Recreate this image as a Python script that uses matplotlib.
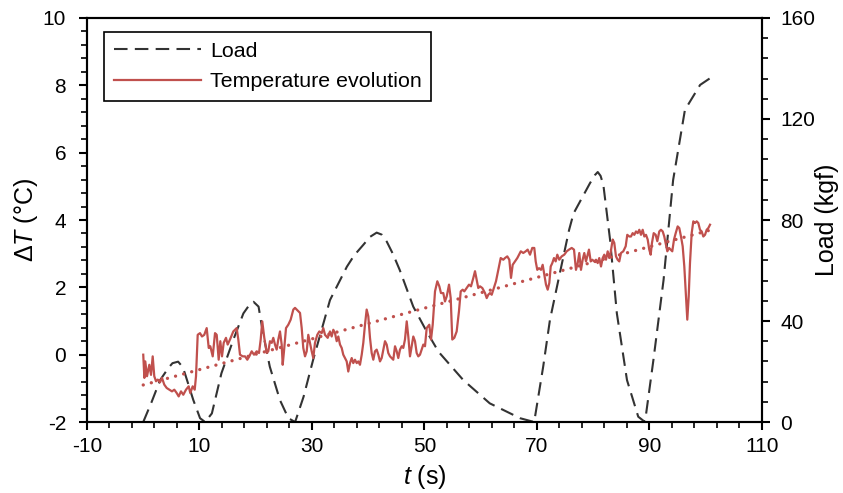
import numpy as np
import matplotlib; matplotlib.use('Agg')
import matplotlib.pyplot as plt
from matplotlib.ticker import MultipleLocator, FixedLocator

plt.rcParams['font.family'] = ['Liberation Sans', 'DejaVu Sans']
plt.rcParams['mathtext.fontset'] = 'custom'
plt.rcParams['mathtext.rm'] = 'Liberation Sans'
plt.rcParams['mathtext.it'] = 'Liberation Sans:italic'
plt.rcParams['axes.unicode_minus'] = False

# temperature evolution (s, degC)
t_temp = [0.00, 0.20, 0.36, 0.67, 1.08, 1.38, 1.68, 1.96, 2.27, 2.57, 2.98, 3.33, 3.74, 4.17, 4.63,
          5.11, 5.52, 5.95, 6.30, 6.71, 7.12, 7.60, 8.08, 8.36, 8.79, 9.15, 9.38, 9.68, 10.09, 10.44,
          10.85, 11.28, 11.64, 11.92, 12.35, 12.76, 13.06, 13.41, 13.70, 14.00, 14.30, 14.71, 15.01,
          15.42, 16.01, 16.61, 16.90, 17.20, 17.68, 18.09, 18.50, 18.85, 19.28, 19.69, 20.17, 20.58,
          20.88, 21.16, 21.52, 21.95, 22.23, 22.53, 22.84, 23.12, 23.42, 23.72, 24.01, 24.31, 24.61,
          24.79, 25.02, 25.38, 25.79, 26.21, 26.68, 26.98, 27.56, 27.87, 28.17, 28.45, 28.76, 29.06,
          29.34, 29.64, 29.95, 30.23, 30.53, 30.94, 31.30, 31.72, 32.01, 32.31, 32.79, 33.20, 33.50,
          33.79, 34.09, 34.39, 34.68, 34.98, 35.28, 35.56, 35.87, 36.17, 36.45, 36.76, 37.06, 37.34,
          37.64, 37.95, 38.23, 38.53, 38.84, 39.12, 39.42, 39.72, 40.01, 40.31, 40.61, 40.90, 41.20,
          41.50, 41.79, 42.09, 42.39, 42.68, 42.98, 43.28, 43.56, 43.87, 44.17, 44.45, 44.76, 45.06,
          45.34, 45.64, 45.95, 46.23, 46.53, 46.84, 47.12, 47.42, 47.72, 48.01, 48.31, 48.61, 48.90,
          49.20, 49.50, 49.79, 50.09, 50.39, 50.85, 51.16, 51.46, 51.87, 52.28, 52.64, 52.93, 53.34,
          53.64, 53.95, 54.36, 54.66, 54.94, 55.30, 55.72, 56.13, 56.44, 56.79, 57.08, 57.50, 57.91,
          58.27, 58.68, 58.98, 59.28, 59.56, 59.87, 60.28, 60.76, 61.06, 61.34, 61.64, 61.95, 62.23,
          62.71, 63.12, 63.55, 64.01, 64.31, 64.72, 65.08, 65.38, 65.68, 66.09, 66.50, 67.12, 67.56,
          67.99, 68.34, 68.76, 69.16, 69.52, 69.77, 70.05, 70.36, 70.71, 71.01, 71.30, 71.60, 71.90,
          72.19, 72.44, 72.72, 73.02, 73.32, 73.61, 73.96, 74.39, 74.85, 75.28, 75.69, 76.17, 76.58,
          76.93, 77.24, 77.52, 77.82, 78.12, 78.41, 78.71, 79.01, 79.24, 79.55, 79.83, 80.19, 80.49,
          80.79, 81.07, 81.38, 81.68, 81.96, 82.27, 82.57, 82.85, 82.98, 83.46, 83.74, 84.04, 84.34, 84.63,
          84.93, 85.34, 85.77, 86.05, 86.41, 86.71, 87.01, 87.30, 87.60, 87.90, 88.19, 88.49, 88.79,
          89.08, 89.38, 89.68, 89.96, 90.21, 90.44, 90.75, 91.10, 91.39, 91.74, 92.04, 92.35, 92.63,
          92.93, 93.17, 93.47, 93.77, 94.05, 94.36, 94.66, 95.01, 95.30, 95.60, 95.90, 96.19, 96.49,
          96.72, 96.97, 97.20, 97.50, 97.79, 98.09, 98.39, 98.68, 98.98, 99.28, 99.57, 99.87, 100.17,
          100.46, 100.76]
dT = [0.00, -0.69, -0.20, -0.64, -0.30, -0.60, -0.05, -0.64, -0.79, -0.74, -0.82, -0.69, -0.89, -0.99, -1.04,
      -1.09, -1.04, -1.14, -1.24, -1.09, -1.19, -1.04, -0.94, -1.14, -0.94, -1.04, -0.64, 0.59, 0.64, 0.54,
      0.59, 0.79, 0.20, 0.25, -0.05, 0.64, 0.59, -0.15, 0.40, -0.05, 0.35, 0.50, 0.30,
      0.45, 0.69, 0.79, 0.45, 0.00, -0.05, -0.05, -0.15, -0.05, 0.10, 0.00, 0.10, 0.05,
      0.45, 0.99, 0.50, 0.05, 0.10, 0.40, 0.35, 0.50, 0.30, 0.15, 0.45, 0.69, 0.30,
      -0.30, 0.10, 0.79, 0.89, 1.04, 1.34, 1.39, 1.29, 1.24, 0.79, 0.20, -0.05, 0.10,
      0.59, 0.35, 0.10, -0.10, 0.35, 0.59, 0.69, 0.64, 0.79, 0.59, 0.50, 0.69, 0.54,
      0.74, 0.64, 0.40, 0.54, 0.30, 0.20, 0.00, -0.10, -0.20, -0.50, -0.25, -0.10, -0.25,
      -0.15, -0.25, -0.20, -0.30, 0.00, 0.35, 0.89, 1.34, 1.14, 0.50, 0.05, -0.15, 0.10,
      0.15, 0.00, -0.20, -0.10, 0.15, 0.40, 0.30, 0.05, -0.05, -0.10, -0.15, 0.25, 0.10,
      -0.10, 0.15, 0.25, 0.20, 0.45, 0.99, 0.54, -0.05, 0.25, 0.54, 0.40, 0.05, -0.05,
      0.00, 0.15, 0.30, 0.25, 0.79, 0.89, 0.45, 0.89, 1.88, 2.18, 2.03, 1.83, 1.83,
      1.58, 1.73, 2.08, 1.68, 0.45, 0.50, 0.69, 1.29, 1.88, 1.93, 1.88, 1.98, 2.08,
      2.03, 2.28, 2.48, 2.23, 1.98, 2.03, 1.98, 1.83, 1.68, 1.78, 1.83, 1.78, 1.93,
      2.18, 2.52, 2.87, 2.82, 2.87, 2.92, 2.82, 2.28, 2.67, 2.77, 2.87, 3.07, 3.02,
      3.07, 3.12, 2.97, 3.17, 3.17, 2.77, 2.52, 2.57, 2.52, 2.67, 2.38, 2.08, 1.93,
      2.13, 2.62, 2.72, 2.87, 2.77, 2.97, 2.82, 2.92, 2.97, 3.07, 3.12, 3.17, 3.12,
      2.52, 2.72, 3.02, 2.52, 2.82, 3.02, 2.77, 2.97, 3.12, 2.77, 2.82, 2.77, 2.82,
      2.72, 2.87, 2.62, 2.87, 2.97, 2.82, 3.07, 2.87, 2.92, 3.42, 3.32, 2.92, 2.82, 2.77,
      3.02, 3.07, 3.22, 3.56, 3.51, 3.51, 3.61, 3.56, 3.66, 3.61, 3.71, 3.56, 3.71,
      3.51, 3.56, 3.42, 3.12, 2.97, 3.32, 3.61, 3.56, 3.37, 3.66, 3.71, 3.66, 3.51,
      3.27, 3.07, 3.17, 3.12, 3.07, 3.42, 3.61, 3.81, 3.76, 3.51, 3.22, 2.62, 1.73,
      1.04, 1.73, 2.72, 3.61, 3.96, 3.91, 3.96, 3.91, 3.71, 3.66, 3.51, 3.56, 3.71,
      3.76, 3.86]

# linear trend of the temperature (end points)
trend_t = [0.0, 100.8]
trend_dT = [-0.90, 3.70]

# load (s, kgf)
t_load = [0.0, 1.5, 3.0, 4.5, 5.2, 6.2, 7.0, 7.4, 8.9, 10.1, 11.0, 12.2, 13.9, 16.0, 17.8, 19.0, 19.6,
          20.5, 21.3, 22.5, 24.3, 25.8, 27.0, 28.5, 30.2, 33.2, 36.2, 37.5, 39.1, 40.3, 41.5, 42.4,
          43.3, 44.4, 45.6, 48.0, 50.4, 52.5, 56.9, 61.6, 67.0, 69.5, 71.1, 72.3, 73.8, 75.7, 76.5,
          79.4, 80.3, 80.8, 81.3, 81.8, 83.0, 84.2, 86.0, 88.0, 89.2, 90.7, 92.5, 94.2, 96.3, 99.0,
          100.8]
load = [0, 8, 16.6, 21.5, 23.3, 23.9, 21.8, 19.3, 8.7, 1.5, 0, 3.4, 19.3, 32.5, 43, 46.8, 47.6,
        45.7, 35.1, 21.9, 8.7, 1.5, 0, 10, 24.6, 48.3, 61.5, 66.0, 70.1, 73.3, 75.0, 74.2,
        71.4, 66.5, 60.2, 45.7, 35.8, 27.8, 16.6, 7.4, 1.5, 0, 21.9, 40.4, 56.2, 76, 82.6,
        94.5, 97.8, 99, 97.5, 93.9, 72, 43, 16.6, 2.1, 0, 24.6, 56.2, 95.8, 123.6, 133.5,
        136.2]

RED = '#c0504d'
FS = 15
FL = 18

fig = plt.figure(figsize=(8.43, 4.93), dpi=100)
ax = fig.add_axes([0.1032, 0.144, 0.8007, 0.8195])
ax2 = ax.twinx()

l_temp, = ax.plot(t_temp, dT, color=RED, lw=1.6, label='Temperature evolution', zorder=3)
ax.plot(trend_t, trend_dT, color=RED, lw=2.4, linestyle=(0, (0.01, 2.5)),
        dash_capstyle='round', zorder=3)
l_load, = ax2.plot(t_load, load, color='#333333', lw=1.5, linestyle=(0, (6.5, 3.5)), label='Load')

ax.set_xlim(-10, 110)
ax.set_ylim(-2, 10)
ax2.set_ylim(0, 160)
ax.xaxis.set_major_locator(FixedLocator(np.arange(-10, 111, 20)))
ax.xaxis.set_minor_locator(FixedLocator(np.arange(-10, 111, 4)))
ax.yaxis.set_major_locator(MultipleLocator(2))
ax.yaxis.set_minor_locator(MultipleLocator(0.4))
ax2.yaxis.set_major_locator(MultipleLocator(40))
ax2.yaxis.set_minor_locator(MultipleLocator(8))

for a in (ax, ax2):
    for s in a.spines.values():
        s.set_linewidth(1.5)
        s.set_color('black')
    a.tick_params(which='major', direction='out', length=6, width=1.5, labelsize=FS)
    a.tick_params(which='minor', direction='out', length=4, width=1.2)
ax.tick_params(axis='y', which='major', pad=9)
ax.tick_params(axis='x', which='major', pad=5)
ax2.tick_params(axis='y', which='major', pad=7)

ax.set_xlabel(r'$t$ (s)', fontsize=FL, labelpad=5)
ax.set_ylabel(r'$\Delta T$ (°C)', fontsize=FL, labelpad=2)
ax2.set_ylabel('Load (kgf)', fontsize=FL, labelpad=0)

leg = ax.legend([l_load, l_temp], ['Load', 'Temperature evolution'], loc='upper left',
                bbox_to_anchor=(0.0252, 0.9653), borderaxespad=0, fontsize=15.4, fancybox=False,
                framealpha=1, edgecolor='black', handlelength=4.1, handletextpad=0.4,
                borderpad=0.45, labelspacing=0.55)
leg.get_frame().set_linewidth(1.2)
ax.set_zorder(ax2.get_zorder() + 1)
ax.patch.set_visible(False)

fig.savefig('out.png', dpi=100)
